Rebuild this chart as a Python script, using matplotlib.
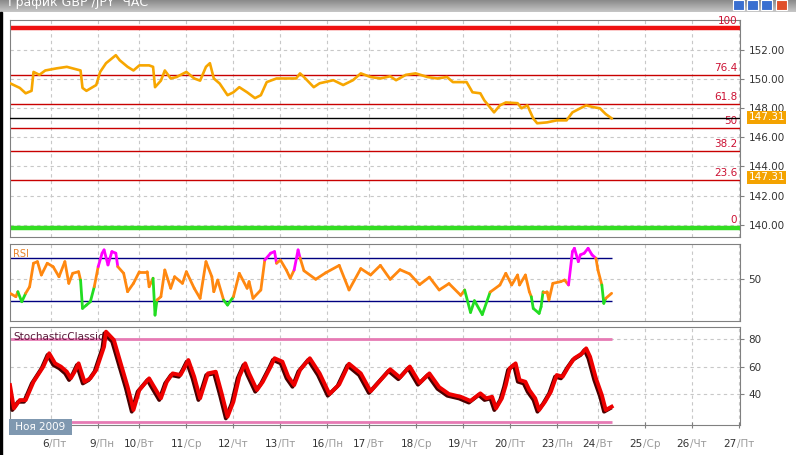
import numpy as np
import matplotlib
matplotlib.use("Agg")
import matplotlib.pyplot as plt
import matplotlib.patheffects as pe
from matplotlib.collections import LineCollection
from matplotlib.colors import LinearSegmentedColormap
from matplotlib.patches import Rectangle

# ---- данные: часовые бары GBP/JPY, x = часы от начала графика ----
price_h = [0, 5, 8, 11, 12, 15, 18, 24, 29, 36, 37, 39, 44, 46, 49, 54, 56, 60, 63, 66,
           71, 73, 74, 77, 79, 82, 85, 90, 94, 97, 100, 102, 104, 107, 111, 114, 117, 121,
           125, 128, 131, 136, 141, 146, 148, 150, 155, 158, 165, 170, 175, 179, 184, 189,
           194, 197, 202, 207, 213, 218, 223, 226, 233, 236, 240, 242, 247, 250, 253, 259,
           261, 264, 267, 269, 274, 279, 284, 287, 291, 294, 298, 301, 304, 307]
price = [149.72, 149.40, 149.03, 149.20, 150.50, 150.30, 150.60, 150.75, 150.85, 150.60,
         149.40, 149.20, 149.60, 150.50, 151.10, 151.65, 151.30, 150.85, 150.60, 150.95,
         150.95, 150.85, 149.45, 149.90, 150.60, 150.05, 150.15, 150.50, 150.05, 149.90,
         150.85, 151.10, 150.05, 149.70, 148.90, 149.10, 149.45, 149.10, 148.70, 148.90,
         149.80, 150.05, 150.05, 150.05, 150.40, 150.15, 149.45, 149.72, 149.93, 149.60,
         149.93, 150.40, 150.15, 150.05, 150.20, 149.93, 150.30, 150.40, 150.15, 150.05,
         150.15, 149.80, 149.80, 149.10, 149.03, 148.55, 147.72, 148.20, 148.40, 148.35,
         148.00, 148.20, 147.30, 146.97, 147.03, 147.17, 147.17, 147.72, 148.00, 148.20,
         148.07, 148.00, 147.60, 147.31]

rsi_h = [0, 3, 4, 6, 8, 10, 12, 14, 16, 19, 22, 25, 28, 30, 32, 35, 36, 37, 39, 41,
         43, 45, 47, 48, 50, 52, 54, 55, 58, 60, 63, 66, 70, 71, 73, 74, 75, 77, 79, 82,
         84, 88, 90, 94, 97, 100, 103, 104, 106, 109, 111, 114, 117, 121, 122, 124, 128,
         130, 133, 135, 136, 138, 141, 143, 145, 147, 148, 150, 156, 161, 168, 173, 179,
         184, 189, 194, 199, 204, 209, 214, 219, 224, 230, 232, 235, 237, 241, 245, 250,
         253, 256, 259, 260, 263, 265, 266, 267, 270, 271, 272, 274, 275, 277, 281, 283,
         285, 287, 288, 290, 291, 293, 295, 297, 299, 300, 302, 303, 304, 307]
rsi = [36.9, 33.7, 38.4, 29.0, 36.9, 43.0, 65.0, 66.5, 54.0, 65.0, 61.8, 52.4, 66.5, 46.2,
       55.6, 57.1, 49.3, 22.8, 25.9, 29.0, 43.0, 61.8, 74.4, 77.5, 63.4, 75.9, 74.4, 61.8,
       55.6, 38.4, 46.2, 57.1, 57.1, 43.0, 51.0, 16.5, 30.6, 33.7, 58.7, 41.6, 52.4, 46.2,
       57.1, 41.6, 32.2, 66.5, 52.4, 38.4, 49.3, 30.6, 25.9, 33.7, 55.6, 41.6, 47.8, 32.2,
       40.0, 68.0, 74.4, 75.9, 65.0, 68.0, 58.7, 51.0, 58.7, 77.5, 70.0, 58.0, 50.0, 56.0,
       63.0, 40.0, 60.0, 54.0, 63.0, 50.0, 59.0, 55.0, 45.0, 52.0, 40.0, 46.0, 35.0, 40.0,
       19.0, 30.0, 17.0, 38.0, 44.7, 55.6, 44.7, 54.0, 44.7, 54.0, 38.4, 33.7, 22.8, 18.1,
       24.3, 38.4, 38.4, 30.6, 46.2, 47.8, 49.3, 44.7, 75.9, 79.0, 66.5, 72.8, 74.4, 79.0,
       72.8, 69.7, 58.7, 44.7, 27.5, 32.2, 36.9]

stoch_h = [0, 2, 5, 8, 12, 17, 20, 23, 26, 29, 31, 33, 35, 38, 41, 44, 48, 49, 53, 56,
           60, 63, 66, 71, 73, 77, 80, 83, 87, 89, 91, 94, 97, 101, 105, 108, 111, 114,
           117, 120, 122, 126, 129, 133, 135, 139, 142, 145, 148, 153, 158, 163, 168, 173,
           179, 184, 189, 194, 199, 204, 209, 214, 219, 224, 230, 235, 240, 243, 246, 248,
           251, 253, 255, 258, 260, 263, 265, 268, 270, 273, 276, 279, 282, 285, 288, 292,
           294, 296, 299, 302, 304, 307]
stoch = [46.5, 29.6, 35.6, 35.6, 48.9, 59.9, 69.6, 62.3, 59.9, 56.2, 51.4, 56.2, 62.3,
         48.9, 51.4, 57.5, 74.4, 85.3, 79.3, 64.7, 45.3, 28.4, 42.9, 51.4, 46.5, 36.9, 48.9,
         55.0, 53.8, 59.0, 64.7, 52.6, 36.9, 55.0, 56.2, 40.5, 23.5, 34.4, 52.6, 62.3, 55.0,
         42.9, 48.9, 59.9, 66.0, 63.5, 52.6, 46.5, 57.5, 66.0, 55.0, 40.0, 47.0, 62.0, 55.0,
         42.0, 50.0, 58.0, 52.0, 60.0, 48.0, 55.0, 45.0, 40.0, 38.0, 35.0, 40.5, 36.9, 38.0,
         29.6, 36.9, 46.5, 58.7, 62.3, 50.2, 48.9, 42.9, 36.9, 28.4, 34.4, 41.7, 53.8, 52.6,
         59.9, 66.0, 69.6, 73.2, 67.1, 51.4, 39.3, 28.4, 30.8]

fib_low, fib_high = 139.80, 153.52
fib_pct = [0, 23.6, 38.2, 50, 61.8, 76.4, 100]
fib_text = ['0', '23.6', '38.2', '50', '61.8', '76.4', '100']
last_price = 147.31

day_ticks = [21, 45, 66, 90, 114, 138, 162, 183, 207, 231, 255, 279, 300, 324, 348, 372]
day_num = ['6', '9', '10', '11', '12', '13', '16', '17', '18', '19', '20', '23', '24',
           '25', '26', '27']
day_name = ['Пт', 'Пн', 'Вт', 'Ср', 'Чт', 'Пт', 'Пн', 'Вт', 'Ср', 'Чт', 'Пт', 'Пн', 'Вт',
            'Ср', 'Чт', 'Пт']

# ---- фигура ----
W, H = 796, 455
fig = plt.figure(figsize=(W / 100, H / 100), dpi=100, facecolor='white')
plt.rcParams['font.family'] = ['DejaVu Sans']


def box(top, bottom):
    return [10 / W, 1 - bottom / H, 730 / W, (bottom - top) / H]


ax1 = fig.add_axes(box(20, 237))
ax2 = fig.add_axes(box(244, 321))
ax3 = fig.add_axes(box(327, 425))

grid_kw = dict(color='#c8c8c8', linestyle=(0, (3, 3)), linewidth=0.8)
for ax in (ax1, ax2, ax3):
    ax.set_xlim(0, 372.5)
    ax.set_xticks(day_ticks)
    ax.yaxis.tick_right()
    for s in ax.spines.values():
        s.set_color('#808080')
    ax.tick_params(axis='y', direction='out', length=3, color='#808080',
                   labelsize=7.5, labelcolor='#333333', pad=3)
    ax.tick_params(axis='x', direction='inout', length=5, color='#808080',
                   labelbottom=False)
    ax.grid(True, **grid_kw)
    ax.set_axisbelow(True)
for ax in (ax1, ax2):
    ax.tick_params(axis='x', length=0)

# --- основной график ---
ax1.set_ylim(139.15, 154.07)
ax1.set_yticks([140, 142, 144, 146, 148, 150, 152])
ax1.set_yticklabels(['%.2f' % v for v in [140, 142, 144, 146, 148, 150, 152]])
for p, t in zip(fib_pct, fib_text):
    lvl = fib_low + (fib_high - fib_low) * p / 100
    if p == 100:
        ax1.axhline(lvl, color='#ee1111', lw=3.2, zorder=2)
    elif p == 0:
        ax1.axhline(lvl, color='#33dd22', lw=3.2, zorder=2)
    else:
        ax1.axhline(lvl, color='#c80000', lw=1.0, zorder=2)
    ax1.annotate(t, (1, lvl), xycoords=('axes fraction', 'data'), xytext=(-2, 1.5),
                 textcoords='offset points', ha='right', va='bottom',
                 fontsize=7.5, color='#cc1133')
ax1.axhline(last_price, color='black', lw=1.0, zorder=3)
ax1.plot(price_h, price, color='#f7a600', lw=1.9, zorder=4)
for yv in (last_price + 0.07, 143.25):
    ax1.annotate('%.2f' % last_price, (1, yv), xycoords=('axes fraction', 'data'),
                 xytext=(6, 0), textcoords='offset points', ha='left', va='center',
                 fontsize=7.5, color='white', zorder=10, annotation_clip=False,
                 bbox=dict(boxstyle='square,pad=0.15', fc='#f4a300', ec='none'))

# --- RSI ---
ax2.set_ylim(11, 83)
ax2.set_yticks([50])
ax2.hlines([30, 70], 0, rsi_h[-1], color='#000080', lw=1.0, zorder=2)
pts = np.column_stack([rsi_h, rsi])
segs = np.stack([pts[:-1], pts[1:]], axis=1)
cols = []
for a, b in zip(rsi[:-1], rsi[1:]):
    if max(a, b) > 70:
        cols.append('#ff00ff')
    elif min(a, b) < 30:
        cols.append('#22dd22')
    else:
        cols.append('#ff8810')
ax2.add_collection(LineCollection(segs, colors=cols, linewidths=2.0, zorder=4,
                                  capstyle='round', joinstyle='round'))
ax2.text(0.004, 0.93, 'RSI', transform=ax2.transAxes, fontsize=7, color='#e8842c',
         va='top', ha='left')

# --- Stochastic ---
ax3.set_ylim(17.5, 88.7)
ax3.set_yticks([40, 60, 80])
ax3.hlines([20, 80], 0, stoch_h[-1], color='#e67ab4', lw=2.0, zorder=2)
ax3.plot(stoch_h, stoch, color='#ee0000', lw=2.8, zorder=4, solid_joinstyle='round',
         path_effects=[pe.SimpleLineShadow(offset=(-1.2, -1.2), shadow_color='#4a0000',
                                           alpha=1.0), pe.Normal()])
ax3.text(0.004, 0.95, 'StochasticClassic', transform=ax3.transAxes, fontsize=7.5,
         color='#5b1a3a', va='top', ha='left', zorder=6)

# подписи дней: число тёмное, день недели светлее
for x, n, d in zip(day_ticks, day_num, day_name):
    ax3.annotate(n, (x, 0), xycoords=('data', 'axes fraction'), xytext=(-1.5, -14),
                 textcoords='offset points', ha='right', va='center', fontsize=7.5,
                 color='#333333', annotation_clip=False)
    ax3.annotate('/' + d, (x, 0), xycoords=('data', 'axes fraction'), xytext=(-1.5, -14),
                 textcoords='offset points', ha='left', va='center', fontsize=7.5,
                 color='#9a9a9a', annotation_clip=False)
ax3.annotate(' Ноя 2009 ', (0, 0), xycoords='axes fraction', xytext=(1.5, -1.5),
             textcoords='offset points', fontsize=7.5, color='white',
             ha='left', va='center', zorder=10, annotation_clip=False,
             bbox=dict(boxstyle='square,pad=0.3', fc='#7f98b0', ec='none'))

# --- заголовок окна ---
bar_cmap = LinearSegmentedColormap.from_list('bar', ['#8a8a8a', '#c6c6c6'])
tb = fig.add_axes([0, 1 - 12 / H, 1, 12 / H])
tb.imshow(np.linspace(0, 1, 20).reshape(-1, 1), aspect='auto', cmap=bar_cmap,
          extent=(0, 1, 0, 1))
tb.set_xlim(0, 1)
tb.set_ylim(0, 1)
tb.axis('off')
tb.text(8 / W, 0.82, 'График GBP /JPY  ЧАС', fontsize=9, color='white', va='center',
        ha='left')
for x0, c in [(733, '#3a6fd0'), (747, '#3a6fd0'), (761, '#3a6fd0'), (776, '#e0502a')]:
    tb.add_patch(Rectangle((x0 / W, 0.2), 11 / W, 0.8, fc=c, ec='white', lw=0.8))
fig.add_artist(Rectangle((0, 0), 2 / W, 1 - 12 / H, transform=fig.transFigure,
                         color='black'))

fig.savefig('out.png', dpi=100, facecolor='white')
